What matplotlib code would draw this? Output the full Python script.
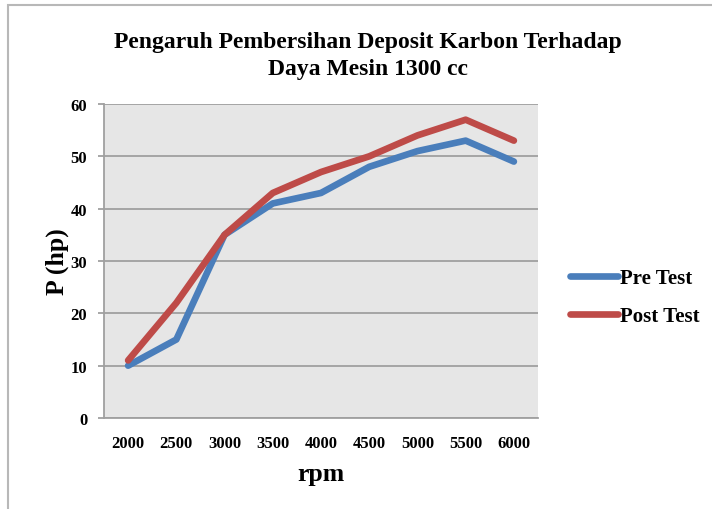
import numpy as np
import matplotlib.pyplot as plt
from matplotlib.patches import Rectangle

rpm = ['2000', '2500', '3000', '3500', '4000', '4500', '5000', '5500', '6000']
pre_test = [10, 15, 35, 41, 43, 48, 51, 53, 49]
post_test = [11, 22, 35, 43, 47, 50, 54, 57, 53]

plt.rcParams['font.family'] = ['Liberation Serif', 'DejaVu Serif']
plt.rcParams['font.weight'] = 'bold'

fig = plt.figure(figsize=(7.12, 5.10), dpi=100)
ax = fig.add_axes([104/712, 1-419/510, 434/712, 314/510])

# outer frame of the chart
fig.patches.append(Rectangle((8/712, -0.05), 1.0, (510-6)/510+0.05, transform=fig.transFigure,
                             fill=False, edgecolor='#b8b8b8', linewidth=1.5))

x = np.arange(len(rpm))
ax.plot(x, pre_test, color='#4a7ebb', linewidth=4.8, solid_capstyle='round', label='Pre Test')
ax.plot(x, post_test, color='#be4b48', linewidth=4.8, solid_capstyle='round', label='Post Test')

ax.set_facecolor('#e6e6e6')
ax.set_xlim(-0.5, len(rpm)-0.5)
ax.set_ylim(0, 60)
ax.set_yticks(range(0, 61, 10))
ax.set_xticks(x)
ax.set_xticklabels(rpm)
ax.grid(axis='y', color='#a0a0a0', linewidth=1.3)
ax.set_axisbelow(True)
for s in ['top', 'right']:
    ax.spines[s].set_visible(False)
for s in ['left', 'bottom']:
    ax.spines[s].set_color('#a0a0a0')
    ax.spines[s].set_linewidth(1.3)
ax.tick_params(axis='y', length=4, color='#a0a0a0', width=1.3, labelsize=12, pad=8)
ax.tick_params(axis='x', length=0, labelsize=12, pad=12)

ax.set_xlabel('rpm', fontsize=18.5, fontweight='bold', labelpad=8)
ax.set_ylabel('P (hp)', fontsize=18.5, fontweight='bold')
ax.yaxis.set_label_coords(-0.08, 0.5)

fig.text(368/712, 1-56/510, 'Pengaruh Pembersihan Deposit Karbon Terhadap\nDaya Mesin 1300 cc',
         ha='center', va='center', fontsize=17, fontweight='bold', linespacing=1.4)

fig.legend(loc='center left', bbox_to_anchor=(551/712, 1-298/510), frameon=False,
           fontsize=15, handlelength=2.3, handletextpad=0.1, labelspacing=0.85)

plt.savefig('out.png', dpi=100)
